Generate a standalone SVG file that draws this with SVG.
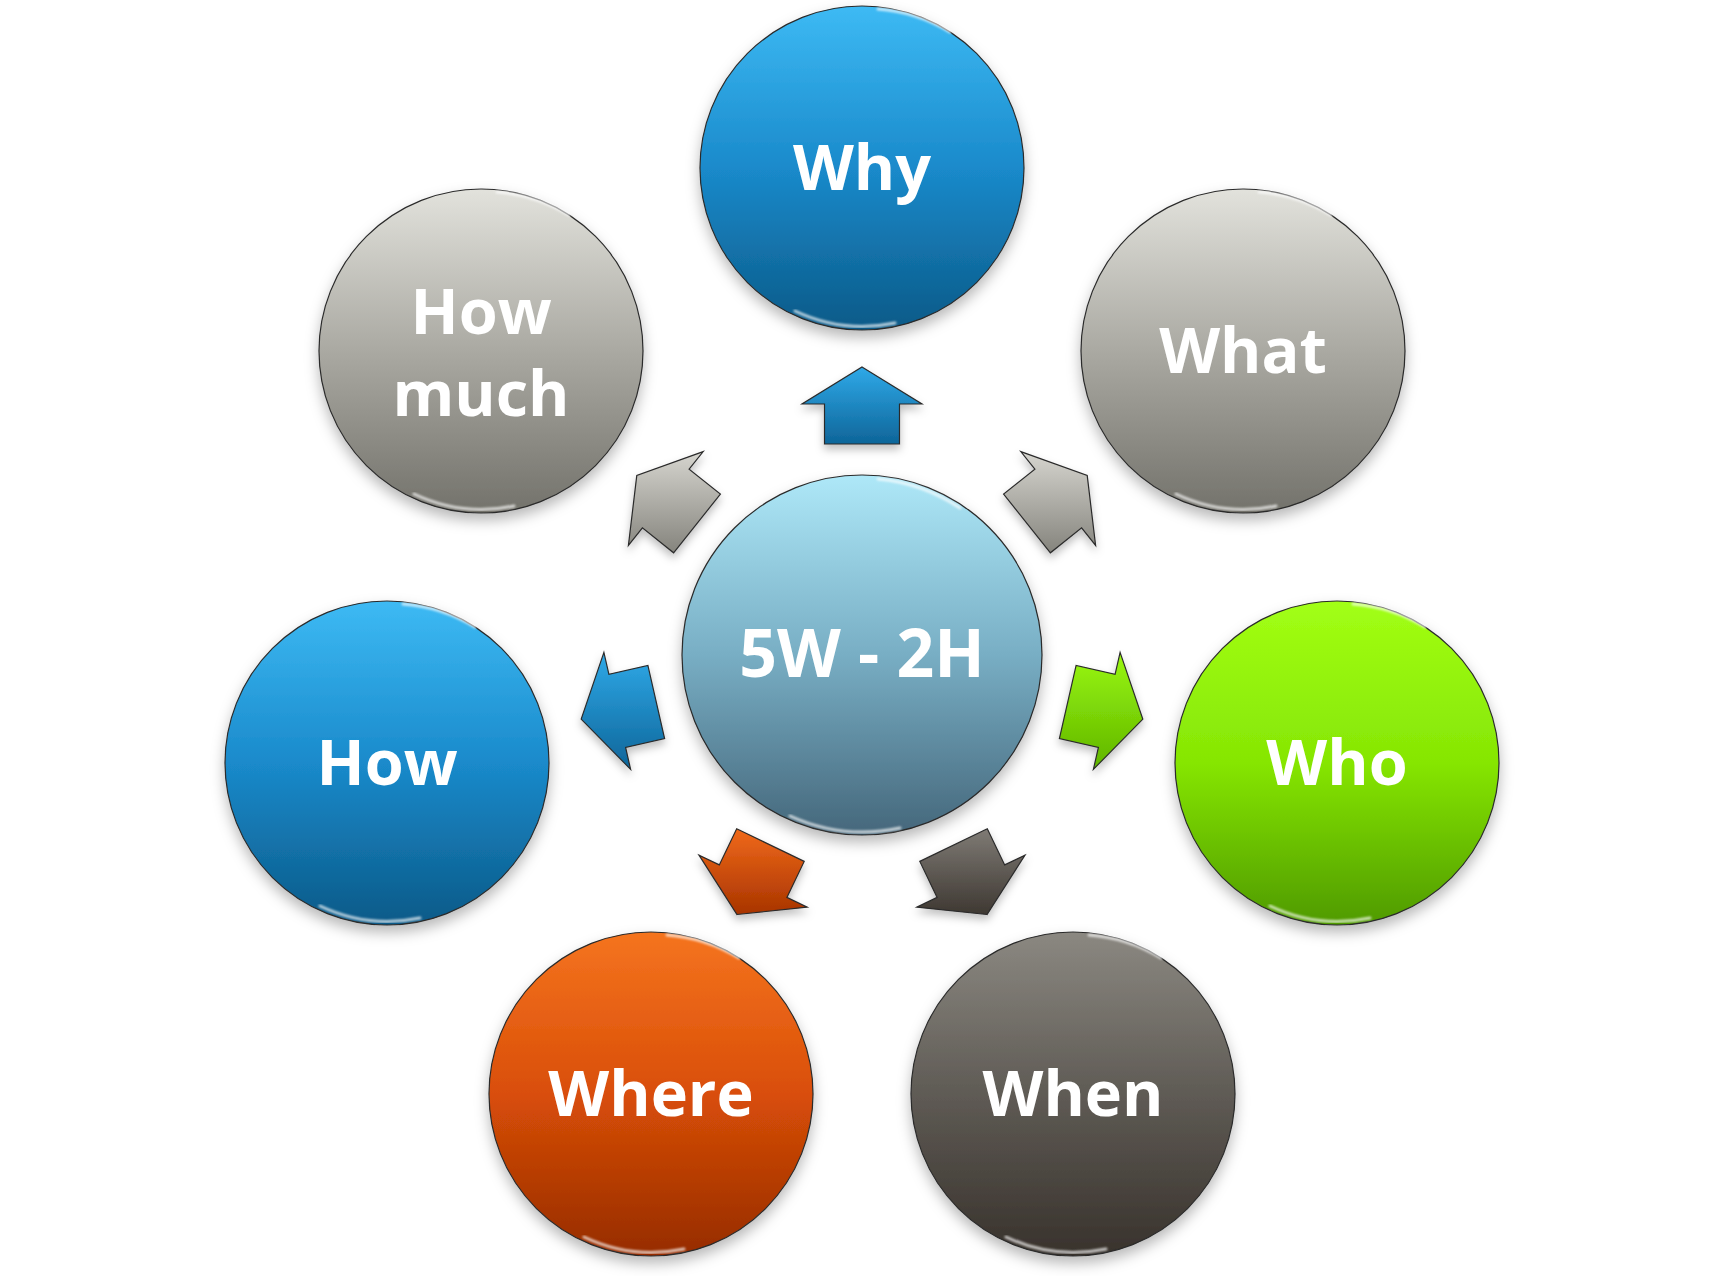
<svg xmlns="http://www.w3.org/2000/svg" width="1725" height="1276" viewBox="0 0 1725 1276">
<style>
.lbl{font-family:"Open Sans","Liberation Sans",sans-serif;font-weight:bold;font-size:63px;fill:#ffffff;text-anchor:middle}
.big{font-size:66px}
.ring{stroke:#2a2a2a;stroke-width:1.2}
.arr{stroke:#2a2a2a;stroke-width:1.2;stroke-linejoin:miter}
.hl{fill:none;stroke:#ffffff;stroke-width:3;stroke-linecap:round;opacity:.7}
</style>
<defs>
<filter id="sh" x="-20%" y="-20%" width="140%" height="150%">
<feDropShadow dx="0" dy="7" stdDeviation="7" flood-color="#000" flood-opacity="0.28"/>
</filter>
<filter id="ash" x="-30%" y="-30%" width="160%" height="170%">
<feDropShadow dx="0" dy="5" stdDeviation="4" flood-color="#000" flood-opacity="0.25"/>
</filter>
<filter id="bl"><feGaussianBlur stdDeviation="1.2"/></filter>
<linearGradient id="gBlue" x1="0" y1="0" x2="0" y2="1"><stop offset="0" stop-color="#3dbaf4"/><stop offset="0.5" stop-color="#1a8acb"/><stop offset="1" stop-color="#0b5a88"/></linearGradient>
<linearGradient id="gGray" x1="0" y1="0" x2="0" y2="1"><stop offset="0" stop-color="#e2e2dc"/><stop offset="0.5" stop-color="#aaa9a2"/><stop offset="1" stop-color="#73726b"/></linearGradient>
<linearGradient id="gGreen" x1="0" y1="0" x2="0" y2="1"><stop offset="0" stop-color="#a2ff14"/><stop offset="0.5" stop-color="#86e604"/><stop offset="1" stop-color="#4f9a00"/></linearGradient>
<linearGradient id="gDark" x1="0" y1="0" x2="0" y2="1"><stop offset="0" stop-color="#8b8881"/><stop offset="0.5" stop-color="#5f5b55"/><stop offset="1" stop-color="#38322c"/></linearGradient>
<linearGradient id="gOrange" x1="0" y1="0" x2="0" y2="1"><stop offset="0" stop-color="#f5741f"/><stop offset="0.5" stop-color="#d94e08"/><stop offset="1" stop-color="#962c00"/></linearGradient>
<linearGradient id="gCenter" x1="0" y1="0" x2="0" y2="1"><stop offset="0" stop-color="#aee8f8"/><stop offset="0.5" stop-color="#78aec4"/><stop offset="1" stop-color="#45677b"/></linearGradient>
<linearGradient id="aBlue" x1="0" y1="0" x2="0" y2="1"><stop offset="0" stop-color="#2fa9e8"/><stop offset="1" stop-color="#0e6599"/></linearGradient>
<linearGradient id="aGray" x1="0" y1="0" x2="0" y2="1"><stop offset="0" stop-color="#d6d5cf"/><stop offset="1" stop-color="#85847d"/></linearGradient>
<linearGradient id="aGreen" x1="0" y1="0" x2="0" y2="1"><stop offset="0" stop-color="#9af80e"/><stop offset="1" stop-color="#5fb400"/></linearGradient>
<linearGradient id="aDark" x1="0" y1="0" x2="0" y2="1"><stop offset="0" stop-color="#7f7b75"/><stop offset="1" stop-color="#3e3832"/></linearGradient>
<linearGradient id="aOrange" x1="0" y1="0" x2="0" y2="1"><stop offset="0" stop-color="#f0691a"/><stop offset="1" stop-color="#a83400"/></linearGradient>
</defs>
<rect width="1725" height="1276" fill="#ffffff"/>

<g id="connectors">
<polygon class="arr" filter="url(#ash)" fill="url(#aBlue)" points="862,367 922,404 899.5,404 899.5,444 824.5,444 824.5,404 802,404"/>
<polygon class="arr" filter="url(#ash)" fill="url(#aGray)" points="1087.2,475.4 1095.6,545.4 1081.6,527.8 1050.4,552.8 1003.6,494.1 1034.9,469.2 1020.8,451.6"/>
<polygon class="arr" filter="url(#ash)" fill="url(#aGreen)" points="1142.8,719.1 1093.4,769.4 1098.4,747.4 1059.4,738.5 1076.1,665.4 1115.1,674.3 1120.1,652.4"/>
<polygon class="arr" filter="url(#ash)" fill="url(#aDark)" points="987,914.5 916.8,907.2 937.1,897.4 919.8,861.4 987.3,828.8 1004.7,864.9 1025,855.1"/>
<polygon class="arr" filter="url(#ash)" fill="url(#aOrange)" points="737,914.5 807.2,907.2 786.9,897.4 804.2,861.4 736.7,828.8 719.3,864.9 699,855.1"/>
<polygon class="arr" filter="url(#ash)" fill="url(#aBlue)" points="581.2,719.1 630.6,769.4 625.6,747.4 664.6,738.5 647.9,665.4 608.9,674.3 603.9,652.4"/>
<polygon class="arr" filter="url(#ash)" fill="url(#aGray)" points="636.8,475.4 628.4,545.4 642.4,527.8 673.6,552.8 720.4,494.1 689.1,469.2 703.2,451.6"/>
</g>

<g id="center">
<circle class="ring" filter="url(#sh)" cx="862" cy="655" r="180" fill="url(#gCenter)"/>
<path class="hl" filter="url(#bl)" d="M 878,479 A 176,176 0 0 1 960,508"/>
<path class="hl" filter="url(#bl)" d="M 790,816 A 176,176 0 0 0 900,828"/>
<text class="lbl big" x="862" y="677">5W - 2H</text>
</g>

<g id="why">
<circle class="ring" filter="url(#sh)" cx="862" cy="168" r="162" fill="url(#gBlue)"/>
<path class="hl" filter="url(#bl)" d="M 878,9 A 158,158 0 0 1 950,32"/>
<path class="hl" filter="url(#bl)" d="M 795,311 A 158,158 0 0 0 895,323"/>
<text class="lbl" x="862" y="190">Why</text>
</g>

<g id="what">
<circle class="ring" filter="url(#sh)" cx="1243" cy="351" r="162" fill="url(#gGray)"/>
<path class="hl" filter="url(#bl)" d="M 1259,192 A 158,158 0 0 1 1331,215"/>
<path class="hl" filter="url(#bl)" d="M 1176,494 A 158,158 0 0 0 1276,506"/>
<text class="lbl" x="1243" y="373">What</text>
</g>

<g id="who">
<circle class="ring" filter="url(#sh)" cx="1337" cy="763" r="162" fill="url(#gGreen)"/>
<path class="hl" filter="url(#bl)" d="M 1353,604 A 158,158 0 0 1 1425,627"/>
<path class="hl" filter="url(#bl)" d="M 1270,906 A 158,158 0 0 0 1370,918"/>
<text class="lbl" x="1337" y="785">Who</text>
</g>

<g id="when">
<circle class="ring" filter="url(#sh)" cx="1073" cy="1094" r="162" fill="url(#gDark)"/>
<path class="hl" filter="url(#bl)" d="M 1089,935 A 158,158 0 0 1 1161,958"/>
<path class="hl" filter="url(#bl)" d="M 1006,1237 A 158,158 0 0 0 1106,1249"/>
<text class="lbl" x="1073" y="1116">When</text>
</g>

<g id="where">
<circle class="ring" filter="url(#sh)" cx="651" cy="1094" r="162" fill="url(#gOrange)"/>
<path class="hl" filter="url(#bl)" d="M 667,935 A 158,158 0 0 1 739,958"/>
<path class="hl" filter="url(#bl)" d="M 584,1237 A 158,158 0 0 0 684,1249"/>
<text class="lbl" x="651" y="1116">Where</text>
</g>

<g id="how">
<circle class="ring" filter="url(#sh)" cx="387" cy="763" r="162" fill="url(#gBlue)"/>
<path class="hl" filter="url(#bl)" d="M 403,604 A 158,158 0 0 1 475,627"/>
<path class="hl" filter="url(#bl)" d="M 320,906 A 158,158 0 0 0 420,918"/>
<text class="lbl" x="387" y="785">How</text>
</g>

<g id="how-much">
<circle class="ring" filter="url(#sh)" cx="481" cy="351" r="162" fill="url(#gGray)"/>
<path class="hl" filter="url(#bl)" d="M 497,192 A 158,158 0 0 1 569,215"/>
<path class="hl" filter="url(#bl)" d="M 414,494 A 158,158 0 0 0 514,506"/>
<text class="lbl" x="481" y="334">How</text>
<text class="lbl" x="481" y="416">much</text>
</g>
</svg>
